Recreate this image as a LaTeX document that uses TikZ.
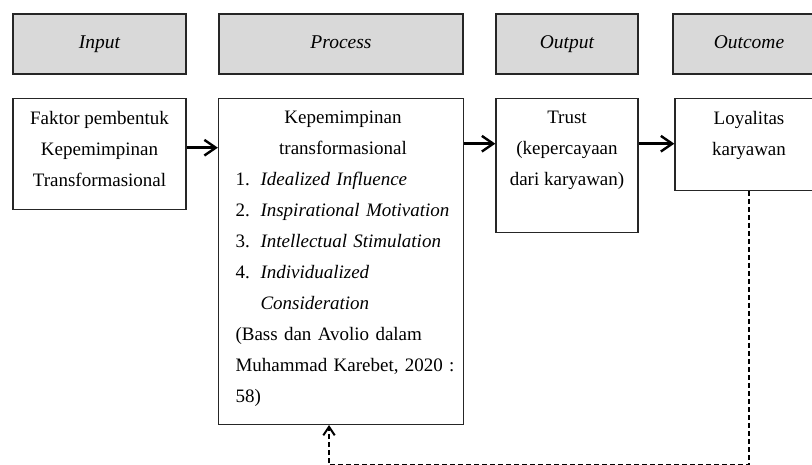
\documentclass[tikz,border=0pt]{standalone}
\usepackage{fontspec}
\setmainfont{Liberation Serif}
\usetikzlibrary{arrows.meta,positioning}

\begin{document}
\begin{tikzpicture}[x=1pt, y=-1pt,
        font=\fontsize{19}{31}\selectfont,
        headbox/.style={draw=black!85, line width=1.4pt, fill=black!15, minimum height=60pt, inner sep=0pt, text height=13pt, text depth=4pt, font=\fontsize{19.5}{31}\selectfont\itshape},
        contentbox/.style={draw=black!85, line width=1.3pt, inner sep=0pt},
        boxtext/.style={anchor=north, inner sep=0pt, align=center, yshift=-13pt},
        flow/.style={draw, line width=2.4pt, -{Straight Barb[length=4mm, width=5.5mm]}},
        feedback/.style={draw, line width=1.3pt, dash pattern=on 5pt off 3pt, -{Straight Barb[length=3mm, width=4mm, line width=2pt]}}]
        \useasboundingbox (0,0) rectangle (812,465);
        \clip (0,0) rectangle (812,465);

        % Place nodes
        \node [headbox, minimum width=173pt] (inhead) at (99.5,44) {Input};
        \node [headbox, minimum width=244pt] (prochead) at (341,44) {Process};
        \node [headbox, minimum width=142pt] (outhead) at (567,44) {Output};
        \node [headbox, minimum width=152pt] (outchead) at (749,44) {Outcome};

        \node [contentbox, minimum width=173pt, minimum height=111pt, below=23pt of inhead] (inbox) {};
        \node [contentbox, minimum width=245pt, minimum height=326pt, below=23pt of prochead] (procbox) {};
        \node [contentbox, minimum width=142pt, minimum height=134pt, below=23pt of outhead] (outbox) {};
        \node [contentbox, minimum width=148pt, minimum height=92pt, below=23pt of outchead] (outcbox) {};

        \node [boxtext] (intext) at (inbox.north) {Faktor pembentuk\\Kepemimpinan\\Transformasional};
        \node [boxtext, text width=215pt, align=left, xshift=2pt] (proctext) at (procbox.north) {%
            \makebox[\hsize]{Kepemimpinan}\\
            \makebox[\hsize]{transformasional}\\
            \makebox[25pt][l]{1.}\textit{Idealized Influence}\\
            \makebox[25pt][l]{2.}\textit{Inspirational Motivation}\\
            \makebox[25pt][l]{3.}\textit{Intellectual Stimulation}\\
            \makebox[25pt][l]{4.}\textit{Individualized}\\
            \hspace*{25pt}\textit{Consideration}\\
            \makebox[\hsize][s]{(Bass dan Avolio dalam}\\
            \makebox[\hsize][s]{Muhammad Karebet, 2020 :}\\
            58)};
        \node [boxtext] (outtext) at (outbox.north) {Trust\\(kepercayaan\\dari karyawan)};
        \node [boxtext] (outctext) at (outcbox.north) {Loyalitas\\karyawan};

        % Draw edges
        \draw [flow] ([yshift=-50pt]inbox.north east) -- ([yshift=-50pt]procbox.north west);
        \draw [flow] ([yshift=-46pt]procbox.north east) -- ([yshift=-46pt]outbox.north west);
        \draw [flow] ([yshift=-46pt]outbox.north east) -- ([yshift=-46pt]outcbox.north west);
        \draw [feedback] (outcbox.south) -- ++(0,274) -| ([xshift=-12pt]procbox.south);
    \end{tikzpicture}
\end{document}
